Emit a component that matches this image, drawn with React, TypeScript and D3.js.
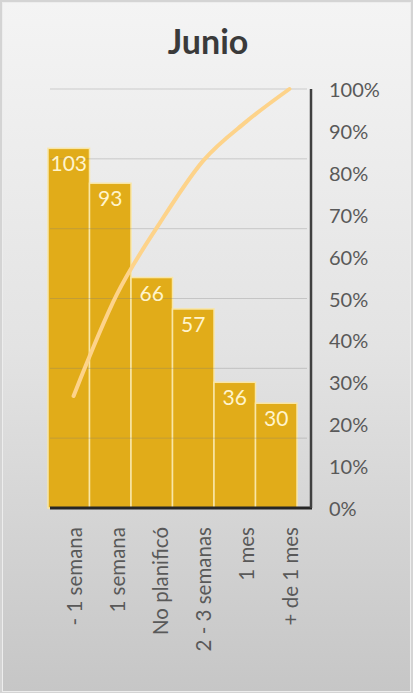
import React from "react";
import * as d3 from "d3";

const title = "Junio";
const categories = ["- 1 semana", "1 semana", "No planificó", "2 - 3 semanas", "1 mes", "+ de 1 mes"];
const counts = [103, 93, 66, 57, 36, 30];
const countTicks = [0, 20, 40, 60, 80, 100, 120];
const pctTicks = [0, 0.1, 0.2, 0.3, 0.4, 0.5, 0.6, 0.7, 0.8, 0.9, 1];

const W = 413;
const H = 693;
const FONT = "Lato, 'Open Sans', sans-serif";

export default function App() {
  const top = 89;
  const bottom = 508;
  const plotLeft = 50;
  const axisX = 311;

  const yCount = d3.scaleLinear().domain([0, 120]).range([bottom, top]);
  const yPct = d3.scaleLinear().domain([0, 1]).range([bottom, top]);
  const xCat = d3.scaleBand<string>().domain(categories).range([52, axisX]).padding(0);
  const xBar = d3.scaleBand<string>().domain(categories).range([48, 297]).padding(0);

  const total = d3.sum(counts);
  const cum = d3.cumsum(counts).map((c) => c / total);
  const linePts: [number, number][] = categories.map((c, i) => [xCat(c)! + xCat.bandwidth() / 2, yPct(cum[i])]);
  const line = d3.line().curve(d3.curveMonotoneX)(linePts) || "";

  const fmt = d3.format(".0%");

  return (
    <svg width={W} height={H} style={{ position: "absolute", left: 0, top: 0 }} fontFamily={FONT}>
      <defs>
        <linearGradient id="bg" x1="0" y1="0" x2="0" y2="1">
          <stop offset="0" stopColor="#f4f4f4" />
          <stop offset="0.5" stopColor="#e3e3e3" />
          <stop offset="1" stopColor="#c6c6c6" />
        </linearGradient>
      </defs>
      <rect x={0} y={0} width={W} height={H} fill="#d4d4d4" />
      <rect x={2.5} y={2.5} width={W - 5} height={H - 4} fill="url(#bg)" stroke="#ededed" strokeWidth={1} />
      <text x={208} y={54} textAnchor="middle" fontSize={34} fontWeight="bold" fill="#3a3a3a">
        {title}
      </text>

      {categories.map((c, i) => (
        <rect
          key={c}
          x={xBar(c)!}
          y={yCount(counts[i])}
          width={xBar.bandwidth()}
          height={bottom - yCount(counts[i])}
          fill="#E1AC19"
          stroke="#F9E6A6"
          strokeWidth={1.5}
        />
      ))}

      {countTicks.slice(1).map((t) => (
        <line key={t} x1={plotLeft} x2={307} y1={yCount(t)} y2={yCount(t)} stroke="#7a7a7a" strokeOpacity={0.3} strokeWidth={1} />
      ))}

      {categories.map((c, i) => (
        <text
          key={c}
          x={xBar(c)! + xBar.bandwidth() / 2}
          y={yCount(counts[i]) + 23}
          textAnchor="middle"
          fontSize={21}
          fill="#FFF4CC"
        >
          {counts[i]}
        </text>
      ))}

      <path d={line} fill="none" stroke="#FDD38A" strokeWidth={4} strokeLinecap="round" strokeLinejoin="round" />

      <line x1={plotLeft} x2={axisX + 1} y1={bottom} y2={bottom} stroke="#262626" strokeWidth={3} />
      <line x1={axisX} x2={axisX} y1={top} y2={bottom} stroke="#404040" strokeWidth={2.5} />

      {pctTicks.map((t) => (
        <text key={t} x={329} y={yPct(t) + 3} dominantBaseline="middle" fontSize={20} fill="#595959">
          {fmt(t)}
        </text>
      ))}

      {categories.map((c) => (
        <text
          key={c}
          transform={`translate(${xCat(c)! + xCat.bandwidth() / 2 + 3}, 527) rotate(-90)`}
          textAnchor="end"
          dominantBaseline="middle"
          fontSize={20.5}
          fill="#595959"
        >
          {c}
        </text>
      ))}
    </svg>
  );
}
